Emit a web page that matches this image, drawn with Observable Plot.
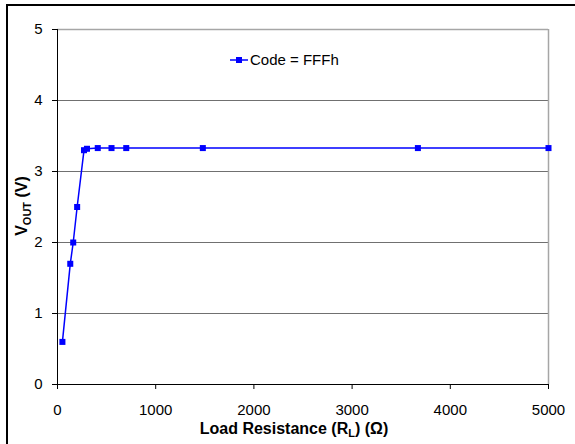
<!DOCTYPE html>
<html><head><meta charset="utf-8">
<script src="https://cdn.jsdelivr.net/npm/d3@7"></script>
<script src="https://cdn.jsdelivr.net/npm/@observablehq/plot@0.6"></script>
<style>
html,body{margin:0;padding:0;background:#fff;overflow:hidden}
#wrap{position:relative;width:575px;height:444px;overflow:hidden}
#border{position:absolute;left:6px;top:4px;width:620px;height:620px;border:2px solid #000;box-sizing:border-box;z-index:2;pointer-events:none}
#wrap svg{position:absolute;left:0;top:0}
</style></head><body><div id="wrap"><div id="border"></div></div>
<script>
const resistance = [50, 130, 160, 200, 270, 300, 410, 550, 700, 1480, 3670, 5000];
const vout = [0.6, 1.7, 2.0, 2.5, 3.3, 3.32, 3.33, 3.33, 3.33, 3.33, 3.33, 3.33];
const xTicks = [0, 1000, 2000, 3000, 4000, 5000];
const yTicks = [0, 1, 2, 3, 4, 5];
const gridY = [1, 2, 3, 4];
const seriesName = "Code = FFFh";

const data = resistance.map((r, i) => ({r, v: vout[i]}));
const font = "'Liberation Sans', Arial, sans-serif";
const blue = "#0000ff";

const plot = Plot.plot({
  width: 575, height: 444,
  marginLeft: 57, marginRight: 27, marginTop: 29, marginBottom: 60,
  style: {fontFamily: font, fontSize: "15px", color: "#000", background: "transparent"},
  x: {domain: [0, 5000]},
  y: {domain: [0, 5]},
  marks: [
    Plot.ruleY(gridY, {stroke: "#707070", strokeWidth: 1}),
    Plot.ruleY([5], {stroke: "#a6a6a6", strokeWidth: 1.5}),
    Plot.ruleX([5000], {stroke: "#a6a6a6", strokeWidth: 1.5}),
    Plot.axisX({ticks: xTicks, tickSize: 5, tickPadding: 15, fontSize: 15, label: null, tickFormat: d => String(d)}),
    Plot.axisY({ticks: yTicks, tickSize: 5, tickPadding: 10, fontSize: 15, label: null, tickFormat: d => String(d)}),
    Plot.ruleX([0], {stroke: "#000"}),
    Plot.ruleY([0], {stroke: "#000"}),
    Plot.line(data, {x: "r", y: "v", stroke: blue, strokeWidth: 1.5}),
    Plot.dot(data, {x: "r", y: "v", symbol: "square", r: 3.4, fill: blue, stroke: "none"})
  ]
});
document.getElementById("wrap").appendChild(plot);

const svg = d3.select(plot);
// X axis title
const xt = svg.append("text")
  .attr("x", 294).attr("y", 434)
  .attr("text-anchor", "middle")
  .style("font-family", font).style("font-weight", "bold").style("font-size", "16px");
xt.append("tspan").text("Load Resistance (R");
xt.append("tspan").attr("dy", 3).style("font-size", "11px").text("L");
xt.append("tspan").attr("dy", -3).text(") (Ω)");

// Y axis title
const yt = svg.append("text")
  .attr("transform", "translate(27,206) rotate(-90)")
  .attr("text-anchor", "middle")
  .style("font-family", font).style("font-weight", "bold").style("font-size", "16px");
yt.append("tspan").text("V");
yt.append("tspan").attr("dy", 4).style("font-size", "11px").text("OUT");
yt.append("tspan").attr("dy", -4).text(" (V)");

// Legend
const lg = svg.append("g");
lg.append("line").attr("x1", 230).attr("x2", 248).attr("y1", 60).attr("y2", 60)
  .attr("stroke", blue).attr("stroke-width", 1.5);
lg.append("rect").attr("x", 236).attr("y", 57).attr("width", 6).attr("height", 6).attr("fill", blue);
lg.append("text").attr("x", 250).attr("y", 65).attr("text-anchor", "start")
  .style("font-family", font).style("font-size", "15px").text(seriesName);
</script>
</body></html>
